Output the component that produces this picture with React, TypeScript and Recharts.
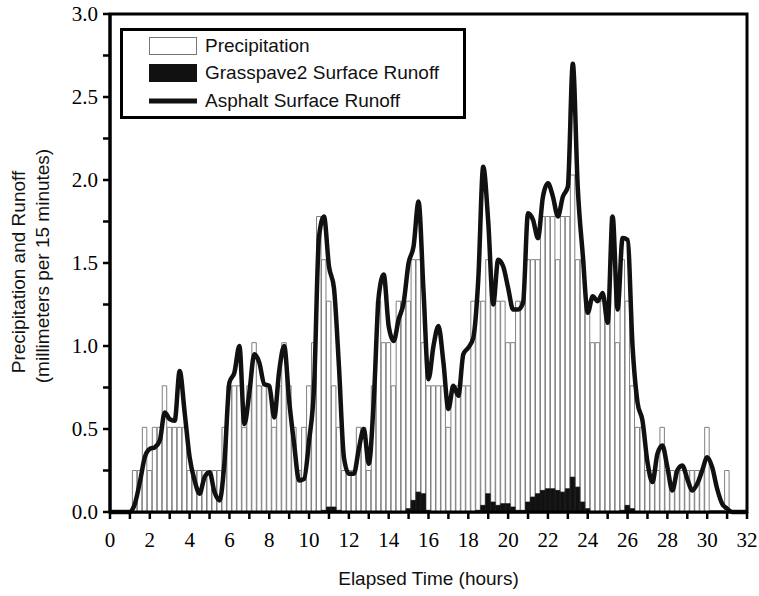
import React from 'react';
import { ComposedChart, Bar, Line, XAxis, YAxis, Legend, ReferenceArea } from 'recharts';

// 15-minute values, one row per 4 hours (16 values), starting at 0 h
const precipitation = [
  0, 0, 0, 0, 0, 0.25, 0.25, 0.51, 0.25, 0.51, 0.51, 0.76, 0.51, 0.51, 0.51, 0.51,
  0.25, 0.25, 0.25, 0.25, 0.25, 0.25, 0.25, 0.51, 0.76, 0.76, 0.76, 0.51, 0.76, 1.02, 0.76, 0.76,
  0.76, 0.51, 0.76, 1.02, 0.76, 0.51, 0.25, 0.51, 0.76, 1.02, 1.78, 1.52, 1.27, 0.76, 0.51, 0.25,
  0.25, 0.25, 0.51, 0.51, 0.25, 0.76, 1.27, 1.02, 1.02, 0.76, 1.27, 1.27, 1.27, 1.52, 1.52, 1.02,
  0.76, 0.76, 0.76, 0.76, 0.51, 0.76, 0.76, 0.76, 0.76, 1.27, 1.27, 1.27, 1.52, 1.27, 1.27, 1.27,
  1.02, 1.02, 1.27, 1.27, 1.52, 1.52, 1.52, 1.78, 1.78, 1.78, 1.52, 1.78, 1.78, 2.03, 1.52, 1.52,
  1.27, 1.02, 1.02, 1.27, 1.27, 1.78, 1.02, 1.52, 1.27, 0.76, 0.51, 0.51, 0.25, 0.25, 0.25, 0.51,
  0.25, 0.25, 0.25, 0.25, 0.25, 0.25, 0.25, 0.25, 0.51, 0, 0, 0, 0.25, 0, 0, 0,
  0,
];

const grasspaveRunoff = [
  0, 0, 0, 0, 0, 0, 0, 0, 0, 0, 0, 0, 0, 0, 0, 0,
  0, 0, 0, 0, 0, 0, 0, 0, 0, 0, 0, 0, 0, 0, 0, 0,
  0, 0, 0, 0, 0, 0, 0, 0, 0, 0, 0, 0.01, 0.03, 0.03, 0.01, 0,
  0, 0, 0, 0, 0, 0, 0, 0, 0, 0, 0, 0, 0.02, 0.07, 0.12, 0.11,
  0.01, 0, 0, 0, 0, 0, 0, 0, 0, 0, 0.01, 0.04, 0.11, 0.06, 0.04, 0.05,
  0.05, 0.03, 0.01, 0.01, 0.06, 0.09, 0.11, 0.13, 0.14, 0.14, 0.13, 0.12, 0.14, 0.21, 0.15, 0.06,
  0.02, 0, 0, 0, 0, 0, 0, 0.01, 0.04, 0.02, 0, 0, 0, 0, 0, 0,
  0, 0, 0, 0, 0, 0, 0, 0, 0, 0, 0, 0, 0, 0, 0, 0,
  0,
];

const asphaltRunoff = [
  0, 0, 0, 0, 0, 0.05, 0.18, 0.33, 0.38, 0.39, 0.43, 0.6, 0.56, 0.55, 0.85, 0.6,
  0.33, 0.19, 0.11, 0.21, 0.24, 0.12, 0.07, 0.3, 0.78, 0.84, 1.0, 0.53, 0.72, 0.95, 0.9, 0.77,
  0.76, 0.57, 0.85, 1.0, 0.67, 0.41, 0.19, 0.2, 0.43, 0.75, 1.66, 1.78, 1.48, 1.35, 0.88, 0.33,
  0.23, 0.23, 0.38, 0.5, 0.29, 0.67, 1.3, 1.43, 1.12, 1.03, 1.16, 1.26, 1.5, 1.6, 1.87, 1.33,
  0.8, 1.0, 1.12, 0.9, 0.62, 0.76, 0.7, 0.95, 0.99, 1.05, 1.4, 2.08, 1.75, 1.25, 1.52, 1.48,
  1.35, 1.22, 1.22, 1.26, 1.8, 1.76, 1.65, 1.9, 1.98, 1.9, 1.78, 1.9, 1.96, 2.7, 1.95, 1.55,
  1.2, 1.3, 1.27, 1.32, 1.14, 1.78, 1.22, 1.65, 1.64, 1.0, 0.66, 0.55, 0.3, 0.18, 0.35, 0.4,
  0.27, 0.13, 0.25, 0.28, 0.2, 0.13, 0.17, 0.25, 0.33, 0.27, 0.14, 0.05, 0.02, 0, 0, 0,
  0,
];

const timeTicks = [0, 1, 2, 3, 4, 5, 6, 7, 8, 9, 10, 11, 12, 13, 14, 15, 16, 17, 18, 19, 20, 21, 22, 23, 24, 25, 26, 27, 28, 29, 30, 31, 32];
const valueTicks = [0, 0.25, 0.5, 0.75, 1, 1.25, 1.5, 1.75, 2, 2.25, 2.5, 2.75, 3];

const data = precipitation.map((p, i) => ({
  time: i * 0.25,
  precipitation: p,
  grasspave: grasspaveRunoff[i],
  asphalt: asphaltRunoff[i],
}));

const serif = '"Liberation Serif", "Times New Roman", serif';
const sans = '"Liberation Sans", Arial, sans-serif';

function TimeTick({ x, y, payload }: any) {
  const major = payload.value % 2 === 0;
  return (
    <g>
      <line x1={x} x2={x} y1={y} y2={y + 7} stroke="#000" strokeWidth={2.5} />
      {major && (
        <text x={x} y={y + 35} textAnchor="middle" fontFamily={serif} fontSize={21} fill="#000">
          {payload.value}
        </text>
      )}
    </g>
  );
}

function ValueTick({ x, y, payload }: any) {
  const v = payload.value;
  const major = Math.abs(v * 2 - Math.round(v * 2)) < 1e-6;
  return (
    <g>
      <line x1={x - 7} x2={x} y1={y} y2={y} stroke="#000" strokeWidth={2.5} />
      {major && (
        <text x={x - 12} y={y} dy="0.35em" textAnchor="end" fontFamily={serif} fontSize={21} fill="#000">
          {v.toFixed(1)}
        </text>
      )}
    </g>
  );
}

function YTitle(props: any) {
  const { viewBox } = props;
  const cy = viewBox.y + viewBox.height / 2;
  const x1 = viewBox.x + 20;
  const x2 = viewBox.x + 44;
  return (
    <g fontFamily={sans} fontSize={19} fill="#111">
      <text x={x1} y={cy + 9} textAnchor="middle" transform={`rotate(-90 ${x1} ${cy + 9})`}>
        Precipitation and Runoff
      </text>
      <text x={x2} y={cy + 3} textAnchor="middle" transform={`rotate(-90 ${x2} ${cy + 3})`}>
        (millimeters per 15 minutes)
      </text>
    </g>
  );
}

function XTitle(props: any) {
  const { viewBox } = props;
  return (
    <text x={viewBox.x + viewBox.width / 2} y={viewBox.y + 73} textAnchor="middle" fontFamily={sans} fontSize={19} fill="#111">
      Elapsed Time (hours)
    </text>
  );
}

function LegendBox() {
  const row = { display: 'flex', alignItems: 'center', height: 27.5 } as const;
  const label = { marginLeft: 8, fontFamily: sans, fontSize: 19, color: '#111', lineHeight: '20px' };
  return (
    <div style={{ border: '3px solid #000', boxSizing: 'border-box', width: 346, height: 91, background: '#fff', padding: '1px 0 0 26px' }}>
      <div style={row}>
        <svg width={48} height={18}><rect x={0.5} y={0.5} width={47} height={17} fill="#fff" stroke="#777" /></svg>
        <span style={label}>Precipitation</span>
      </div>
      <div style={row}>
        <svg width={48} height={18}><rect x={0} y={0} width={48} height={18} fill="#111" /></svg>
        <span style={label}>Grasspave2 Surface Runoff</span>
      </div>
      <div style={row}>
        <svg width={48} height={18}><line x1={0} x2={48} y1={9} y2={9} stroke="#111" strokeWidth={5} /></svg>
        <span style={label}>Asphalt Surface Runoff</span>
      </div>
    </div>
  );
}

export default function App() {
  return (
    <div style={{ position: 'absolute', left: 0, top: 0, width: 759, height: 596, background: '#fff' }}>
      <ComposedChart width={759} height={596} data={data} margin={{ top: 14, right: 12, bottom: 0, left: 5 }}>
        <XAxis
          dataKey="time"
          type="number"
          domain={[0, 32]}
          ticks={timeTicks}
          interval={0}
          height={84}
          tickSize={0}
          tickMargin={0}
          tickLine={false}
          axisLine={{ stroke: '#000', strokeWidth: 3 }}
          tick={(p: any) => <TimeTick {...p} />}
          label={XTitle}
        />
        <XAxis xAxisId="grass" dataKey="time" type="number" domain={[0, 32]} hide />
        <YAxis
          type="number"
          domain={[0, 3]}
          ticks={valueTicks}
          interval={0}
          width={105}
          tickSize={0}
          tickMargin={0}
          tickLine={false}
          axisLine={{ stroke: '#000', strokeWidth: 3 }}
          tick={(p: any) => <ValueTick {...p} />}
          label={YTitle}
        />
        <Legend
          layout="vertical"
          align="center"
          verticalAlign="middle"
          width={346}
          wrapperStyle={{ left: 120, top: 28, width: 346 }}
          content={() => <LegendBox />}
        />
        <Bar dataKey="precipitation" name="Precipitation" barSize={5} fill="#fff" stroke="#808080" strokeWidth={1} isAnimationActive={false} />
        <Bar xAxisId="grass" dataKey="grasspave" name="Grasspave2 Surface Runoff" barSize={6} fill="#111" stroke="#111" strokeWidth={0.8} isAnimationActive={false} />
        <Line dataKey="asphalt" name="Asphalt Surface Runoff" type="monotone" stroke="#111" strokeWidth={4.5} dot={false} isAnimationActive={false} />
        <ReferenceArea x1={0} x2={32} y1={0} y2={3} fill="none" stroke="#000" strokeWidth={3} ifOverflow="visible" />
      </ComposedChart>
    </div>
  );
}
